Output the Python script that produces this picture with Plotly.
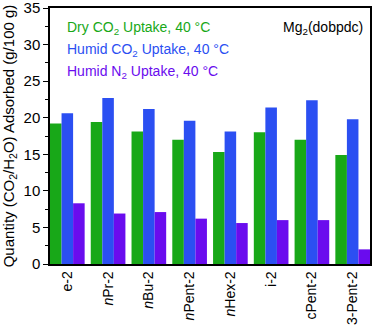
import plotly.graph_objects as go

# samples and uptake values (g/100 g)
samples = ['e-2', '<i>n</i>Pr-2', '<i>n</i>Bu-2', '<i>n</i>Pent-2', '<i>n</i>Hex-2',
           'i-2', 'cPent-2', '3-Pent-2']
dry_co2 = [19.2, 19.4, 18.1, 17.0, 15.3, 18.0, 17.0, 14.9]
humid_co2 = [20.6, 22.7, 21.2, 19.6, 18.1, 21.4, 22.4, 19.8]
humid_n2 = [8.3, 6.9, 7.1, 6.2, 5.6, 6.0, 6.0, 2.0]

green = '#18a818'
blue = '#2b4ff2'
purple = '#6a0cee'
font = 'Liberation Sans, Arial, sans-serif'

fig = go.Figure()
fig.add_trace(go.Bar(x=samples, y=dry_co2, marker=dict(color=green, line=dict(width=0))))
fig.add_trace(go.Bar(x=samples, y=humid_co2, marker=dict(color=blue, line=dict(width=0))))
fig.add_trace(go.Bar(x=samples, y=humid_n2, marker=dict(color=purple, line=dict(width=0))))

fig.update_layout(
    width=374, height=328,
    margin=dict(l=50, r=4, t=8, b=64),
    barmode='group', bargap=0.15, bargroupgap=0,
    showlegend=False,
    plot_bgcolor='white', paper_bgcolor='white',
    font=dict(family=font, size=14, color='black'),
    xaxis=dict(
        range=[-0.425, 7.425], tickangle=-90, ticks='', automargin=False,
        showline=True, linecolor='black', linewidth=1.5, mirror=True,
        tickfont=dict(size=14), ticklabeloverflow='allow',
    ),
    yaxis=dict(
        range=[0, 35], dtick=5, ticks='outside', ticklen=5, tickwidth=1.2,
        tickcolor='black', showgrid=False, zeroline=False, automargin=False,
        showline=True, linecolor='black', linewidth=1.5, mirror=True,
        minor=dict(dtick=2.5, ticks='outside', ticklen=3, tickcolor='black'),
        title=dict(text='Quantity (CO<sub>2</sub>/H<sub>2</sub>O) Adsorbed (g/100 g)',
                   font=dict(size=15), standoff=10),
        tickfont=dict(size=15), ticklabeloverflow='allow',
    ),
    annotations=[
        dict(x=0.047, y=32.3, xref='paper', yref='y', xanchor='left', showarrow=False,
             text='Dry CO<sub>2</sub> Uptake, 40 °C', font=dict(color=green, size=14)),
        dict(x=0.047, y=29.3, xref='paper', yref='y', xanchor='left', showarrow=False,
             text='Humid CO<sub>2</sub> Uptake, 40 °C', font=dict(color=blue, size=14)),
        dict(x=0.047, y=26.3, xref='paper', yref='y', xanchor='left', showarrow=False,
             text='Humid N<sub>2</sub> Uptake, 40 °C', font=dict(color=purple, size=14)),
        dict(x=0.985, y=32.3, xref='paper', yref='y', xanchor='right', showarrow=False,
             text='Mg<sub>2</sub>(dobpdc)', font=dict(color='black', size=14)),
    ],
)

# drop the default page margin so the figure sits at the window's corner
fig.write_html("out.html", config={'displayModeBar': False},
               post_script="document.body.style.margin='0';")
